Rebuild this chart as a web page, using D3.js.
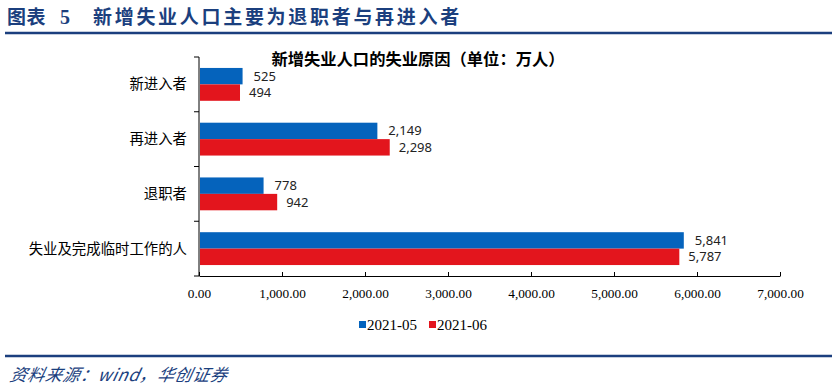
<!DOCTYPE html>
<html><head><meta charset="utf-8">
<script src="https://cdn.jsdelivr.net/npm/d3@7/dist/d3.min.js"></script>
<style>body{margin:0;background:#fff}svg{display:block}</style>
</head><body>
<svg id="c" width="839" height="392"></svg>
<script>
const categories = ["新进入者","再进入者","退职者","失业及完成临时工作的人"];
const series = ["2021-05","2021-06"];
const may = [525, 2149, 778, 5841];
const jun = [494, 2298, 942, 5787];
const xTicks = [0,1000,2000,3000,4000,5000,6000,7000];
const colors = ["#0563BC","#E3151D"];

const svg = d3.select("#c");
const navy = "#1B3F7E";
// header
svg.append("text").attr("x",7).attr("y",24).attr("fill",navy)
  .attr("font-family","'Noto Sans CJK SC'").attr("font-weight","bold").attr("font-size",19)
  .attr("letter-spacing",0.5).text("图表");
svg.append("text").attr("x",60).attr("y",24).attr("fill",navy)
  .attr("font-family","'Liberation Serif'").attr("font-weight","bold").attr("font-size",20)
  .text("5");
svg.append("text").attr("x",93).attr("y",24).attr("fill",navy)
  .attr("font-family","'Noto Sans CJK SC'").attr("font-weight","bold").attr("font-size",19)
  .attr("letter-spacing",2.7).text("新增失业人口主要为退职者与再进入者");
svg.append("line").attr("x1",5).attr("x2",832).attr("y1",33).attr("y2",33).attr("stroke",navy).attr("stroke-width",2.5);
svg.append("line").attr("x1",5).attr("x2",832).attr("y1",356).attr("y2",356).attr("stroke",navy).attr("stroke-width",2.5);
svg.append("text").attr("x",9).attr("y",381).attr("fill",navy)
  .attr("font-family","'Noto Sans CJK SC'").attr("font-style","italic").attr("font-size",17)
  .attr("letter-spacing",0.6)
  .attr("transform","skewX(-12) translate(81,0)").text("资料来源：wind，华创证券");

// chart title
svg.append("text").attr("x",418).attr("y",65).attr("text-anchor","middle")
  .attr("font-family","'Noto Sans CJK SC'").attr("font-weight","bold").attr("font-size",16.3)
  .text("新增失业人口的失业原因（单位：万人）");

const x = d3.scaleLinear().domain([0,7000]).range([199,780]);
const y = d3.scaleBand().domain(categories).range([57,276]).paddingInner(0.4).paddingOuter(0.2);
const y0 = d3.scaleBand().domain(series).range([0,y.bandwidth()]);

// axes
const xa = svg.append("g").attr("transform","translate(0,276)")
  .call(d3.axisBottom(x).tickValues(xTicks).tickSize(4).tickSizeOuter(0).tickFormat(d3.format(",.2f")));
xa.select(".domain").attr("stroke","#000");
xa.selectAll(".tick line").attr("stroke","#000").attr("y2",-4).attr("y1",0);
xa.selectAll(".tick text").attr("font-family","'Liberation Serif'").attr("font-size",13.3).attr("dy","1.15em").attr("fill","#000");

const yStep = d3.scalePoint().domain(d3.range(5)).range([57,276]);
const ya = svg.append("g");
ya.append("line").attr("x1",199).attr("x2",199).attr("y1",57).attr("y2",276).attr("stroke","#000");
ya.selectAll("line.t").data(d3.range(5)).join("line").attr("class","t")
  .attr("x1",194).attr("x2",199).attr("y1",d=>yStep(d)).attr("y2",d=>yStep(d)).attr("stroke","#000");
ya.selectAll("text").data(categories).join("text")
  .attr("x",187).attr("y",d=>y(d)+y.bandwidth()/2).attr("dy","0.35em").attr("text-anchor","end")
  .attr("font-family","'Noto Sans CJK SC'").attr("font-size",14.4).text(d=>d);

const vals = [may, jun];
series.forEach((s,si)=>{
  const g = svg.append("g");
  g.selectAll("rect").data(categories).join("rect")
    .attr("x",x(0)+1).attr("y",(d)=>y(d)+y0(s))
    .attr("width",(d,i)=>x(vals[si][i])-x(0)-1).attr("height",y0.bandwidth())
    .attr("fill",colors[si]);
  g.selectAll("text").data(categories).join("text")
    .attr("x",(d,i)=>x(vals[si][i])+ (si===0?11:9)).attr("y",d=>y(d)+y0(s)+y0.bandwidth()/2)
    .attr("dy", "0.35em")
    .attr("font-family","'Noto Sans'").attr("font-size",13).attr("fill","#222")
    .text((d,i)=>d3.format(",")(vals[si][i]));
});

// legend
const lg = svg.append("g").attr("transform","translate(359,321)");
series.forEach((s,i)=>{
  const gx = i*70;
  lg.append("rect").attr("x",gx).attr("y",0).attr("width",7).attr("height",7).attr("fill",colors[i]);
  lg.append("text").attr("x",gx+8).attr("y",9).attr("font-family","'Liberation Serif'").attr("font-size",15).text(s);
});
</script>
</body></html>
